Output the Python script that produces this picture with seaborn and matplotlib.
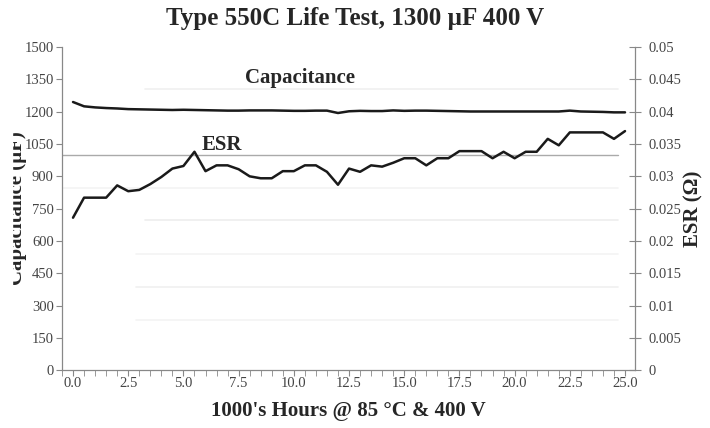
import numpy as np
import pandas as pd
import matplotlib
matplotlib.use("Agg")
import matplotlib.pyplot as plt
import seaborn as sns
from matplotlib.patches import Rectangle
from matplotlib.ticker import MultipleLocator, FormatStrFormatter

# Data (thousands of hours, every 500 h)
hours = [i * 0.5 for i in range(51)]
capacitance = [1245, 1225, 1220, 1217, 1215, 1212, 1211, 1210, 1209, 1208,
               1209, 1208, 1207, 1206, 1205, 1205, 1206, 1206, 1206, 1205,
               1204, 1204, 1205, 1205, 1194, 1202, 1204, 1203, 1203, 1206,
               1204, 1205, 1205, 1204, 1203, 1202, 1201, 1201, 1201, 1201,
               1201, 1201, 1201, 1201, 1201, 1205, 1201, 1200, 1199, 1197,
               1197]
esr = [0.0236, 0.0267, 0.0267, 0.0267, 0.0286, 0.0277, 0.0279, 0.0288, 0.0299, 0.0312,
       0.0316, 0.0338, 0.0308, 0.0317, 0.0317, 0.0311, 0.0300, 0.0297, 0.0297, 0.0308,
       0.0308, 0.0317, 0.0317, 0.0307, 0.0287, 0.0312, 0.0307, 0.0317, 0.0315, 0.0321,
       0.0328, 0.0328, 0.0317, 0.0328, 0.0328, 0.0339, 0.0339, 0.0339, 0.0328, 0.0338,
       0.0328, 0.0338, 0.0338, 0.0358, 0.0348, 0.0368, 0.0368, 0.0368, 0.0368, 0.0358,
       0.0370]
esr_ticks = [i * 0.005 for i in range(11)]
esr_labels = ['0', '0.005', '0.01', '0.015', '0.02', '0.025', '0.03',
              '0.035', '0.04', '0.045', '0.05']

df = pd.DataFrame({"hours": hours, "cap": capacitance, "esr": esr})

sns.set_style("white")
plt.rcParams['font.family'] = ['Liberation Serif', 'DejaVu Serif']

fig = plt.figure(figsize=(7.1, 4.28), dpi=100)
ax = fig.add_axes([0.0873, 0.135, 0.807, 0.755])
ax2 = ax.twinx()

# faint background lines like the scanned original
for lvl, x0, c in [(1305, 0.145, '#f0f0f0'), (845, 0.0, '#f3f3f3'), (697, 0.145, '#eeeeee'),
                   (539, 0.13, '#f3f3f3'), (385, 0.13, '#f0f0f0'), (232, 0.13, '#f3f3f3')]:
    ax.axhline(lvl, xmin=x0, xmax=0.97, color=c, lw=1.2, zorder=0)
ax.axhline(1000, xmin=0, xmax=0.97, color='#aaaaaa', lw=1.0, zorder=1)

sns.lineplot(data=df, x="hours", y="cap", ax=ax, color='#1a1a1a', lw=1.8)
sns.lineplot(data=df, x="hours", y="esr", ax=ax2, color='#1a1a1a', lw=1.8)

ax.set_xlim(-0.5, 25.45)
ax.set_ylim(0, 1500)
ax2.set_ylim(0, 0.05)

ax.xaxis.set_major_locator(MultipleLocator(2.5))
ax.xaxis.set_minor_locator(MultipleLocator(0.5))
ax.xaxis.set_major_formatter(FormatStrFormatter('%.1f'))
ax.yaxis.set_major_locator(MultipleLocator(150))
ax2.set_yticks(esr_ticks)
ax2.set_yticklabels(esr_labels)

for a in (ax, ax2):
    for s in a.spines.values():
        s.set_visible(False)
ax.spines['left'].set_visible(True)
ax.spines['bottom'].set_visible(True)
ax2.spines['right'].set_visible(True)
for s in (ax.spines['left'], ax.spines['bottom'], ax2.spines['right']):
    s.set_color('#888888')
    s.set_linewidth(0.9)

ax.tick_params(axis='x', which='both', direction='out', length=4, color='#888888',
               labelsize=10.5, labelcolor='#444444', bottom=True, pad=1)
ax.tick_params(axis='y', direction='out', length=4, color='#888888',
               labelsize=10.5, labelcolor='#444444', left=True, pad=2)
ax2.tick_params(axis='y', direction='inout', length=9, color='#888888',
                labelsize=10.5, labelcolor='#444444', right=True, pad=5)

ax.set_xlabel("1000's Hours @ 85 °C & 400 V", fontsize=15, fontweight='bold', labelpad=8)
ax.set_ylabel("")
ax2.set_ylabel("ESR (Ω)", fontsize=15, fontweight='bold', labelpad=2)

fig.text(17 / 710, 0.514, "Capacitance (µF)", rotation=90, ha='center', va='center',
         fontsize=15, fontweight='bold')
fig.patches.append(Rectangle((0, 0), 12 / 710, 1, transform=fig.transFigure,
                             color='white', zorder=10))

ax.text(10.3, 1356, "Capacitance", ha='center', va='center', fontsize=15, fontweight='bold')
ax.text(6.75, 1045, "ESR", ha='center', va='center', fontsize=15, fontweight='bold')

fig.suptitle("Type 550C Life Test, 1300 µF 400 V", x=0.5, y=0.983, fontsize=18,
             fontweight='bold', va='top')

fig.savefig("out.png", dpi=100)
